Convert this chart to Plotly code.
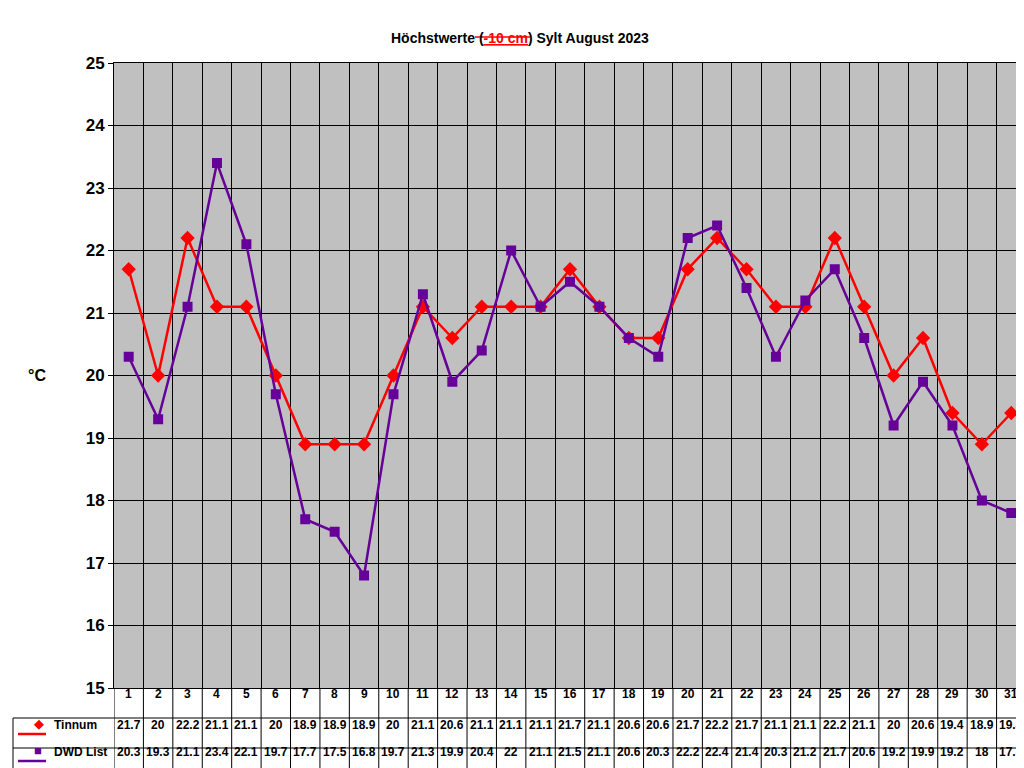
import plotly.graph_objects as go

days = list(range(1, 32))
tinnum = [21.7,20,22.2,21.1,21.1,20,18.9,18.9,18.9,20,21.1,20.6,21.1,21.1,21.1,21.7,21.1,20.6,20.6,21.7,22.2,21.7,21.1,21.1,22.2,21.1,20,20.6,19.4,18.9,19.4]
dwd = [20.3,19.3,21.1,23.4,22.1,19.7,17.7,17.5,16.8,19.7,21.3,19.9,20.4,22,21.1,21.5,21.1,20.6,20.3,22.2,22.4,21.4,20.3,21.2,21.7,20.6,19.2,19.9,19.2,18,17.8]
series = [("Tinnum", tinnum, "#FF0000", "diamond"), ("DWD List", dwd, "#660099", "square")]

W, H = 1024, 768
L, R, T, B = 106, 1018, 55, 680
PH = B - T
def py(y): return (B - y) / PH
def pxp(x): return (x - L) / (R - L)

fig = go.Figure()
for name, vals, col, sym in series:
    fig.add_trace(go.Scatter(x=days, y=vals, mode="lines+markers", name=name,
                             line=dict(color=col, width=2.5),
                             marker=dict(symbol=sym, size=10 if sym == "square" else 11, color=col)))

shapes = []
ann = []
font = dict(family="Liberation Sans, Arial", size=12, color="black")
# table vertical lines
for i in range(32):
    shapes.append(dict(type="line", xref="x", yref="paper", x0=0.5 + i, x1=0.5 + i, y0=0, y1=py(766), line=dict(color="black", width=1)))
for yy in (710, 740, 766):
    shapes.append(dict(type="line", xref="paper", yref="paper", x0=pxp(5), x1=1, y0=py(yy), y1=py(yy), line=dict(color="black", width=1)))
shapes.append(dict(type="line", xref="paper", yref="paper", x0=pxp(5), x1=pxp(5), y0=py(710), y1=py(766), line=dict(color="black", width=1)))
# day row
for d in days:
    ann.append(dict(x=d, y=py(695), xref="x", yref="paper", text=f"<b>{d}</b>", showarrow=False, font=font))
rows = [726, 753]
for (name, vals, col, sym), ry in zip(series, rows):
    for d, v in zip(days, vals):
        ann.append(dict(x=d, y=py(ry), xref="x", yref="paper", text=f"<b>{v:g}</b>", showarrow=False, font=font))
    shapes.append(dict(type="line", xref="paper", yref="paper", x0=pxp(10), x1=pxp(38), y0=py(ry), y1=py(ry), line=dict(color=col, width=2.5)))
    ann.append(dict(x=pxp(24), y=py(ry), xref="paper", yref="paper", text="\u25C6" if sym == "diamond" else "\u25A0",
                    showarrow=False, font=dict(size=13, color=col)))
    ann.append(dict(x=pxp(44), y=py(ry), xref="paper", yref="paper", xanchor="left", text=f"<b>{name}</b>", showarrow=False, font=font))

ann.append(dict(x=pxp(18), y=py(367), xref="paper", yref="paper", text="<b>°C</b>", showarrow=False,
                font=dict(family="Liberation Sans, Arial", size=16, color="black")))
ann.append(dict(x=pxp(512), y=py(20), xref="paper", yref="paper",
                text="<b>Höchstwerte (<span style='color:#FF0000;text-decoration:underline'><u>-10 cm</u></span>) Sylt August 2023</b>",
                showarrow=False, font=dict(family="Liberation Sans, Arial", size=14, color="black")))
shapes.append(dict(type="line", xref="paper", yref="paper", x0=pxp(467), x1=pxp(522), y0=py(29), y1=py(29), line=dict(color="#FF0000", width=1.5)))

fig.update_layout(
    width=W, height=H, margin=dict(l=L, r=W - R, t=T, b=H - B),
    paper_bgcolor="white", plot_bgcolor="#C0C0C0", showlegend=False,
    xaxis=dict(range=[0.5, 31.5], tickvals=[0.5 + i for i in range(32)], showticklabels=False,
               showgrid=True, gridcolor="black", gridwidth=1, zeroline=False,
               showline=True, linecolor="black", linewidth=1, mirror=True, ticks=""),
    yaxis=dict(range=[15, 25], dtick=1, showgrid=True, gridcolor="black", gridwidth=1, zeroline=False,
               showline=True, linecolor="black", linewidth=1, mirror=True, ticks="outside", ticklen=5,
               tickcolor="black",
               tickfont=dict(family="Liberation Sans, Arial", size=17, color="black", weight="bold")),
    shapes=shapes, annotations=ann,
)
fig.write_html("out.html")
